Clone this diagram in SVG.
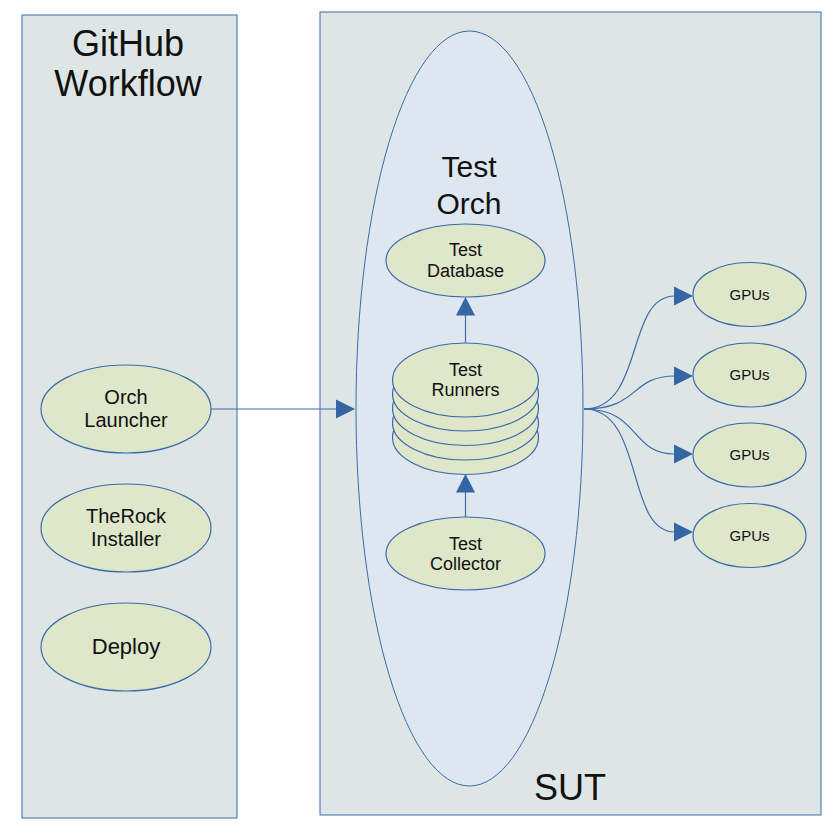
<svg xmlns="http://www.w3.org/2000/svg" width="840" height="830" viewBox="0 0 840 830">
<defs>
<style>
.panel{fill:#dee6e5;stroke:#3c6aaa;stroke-width:1}
.orch{fill:#dee6f0;stroke:#3c6aaa;stroke-width:1}
.node{fill:#dee7c9;stroke:#3c6aaa;stroke-width:1.2}
.conn{fill:none;stroke:#3c6aaa;stroke-width:1.2}
.head{fill:#3465a4}
text{font-family:"Liberation Sans",Arial,sans-serif;fill:#111;text-anchor:middle}
.big{font-size:36px}
.mid{font-size:30px}
.n22{font-size:22px}
.n20{font-size:20px}
.n18{font-size:18px}
.n15{font-size:15px}
</style>
</defs>
<rect width="840" height="830" fill="#ffffff"/>
<g id="github-workflow">
<rect class="panel" x="22" y="15" width="215" height="803"/>
<text class="big" x="128" y="56">GitHub</text>
<text class="big" x="128" y="96">Workflow</text>
</g>
<g id="sut">
<rect class="panel" x="320" y="12" width="501" height="803"/>
<text class="big" x="570" y="800">SUT</text>
</g>
<g id="test-orch">
<ellipse class="orch" cx="469.5" cy="408.5" rx="113.5" ry="377.5"/>
<text class="mid" x="469" y="177">Test</text>
<text class="mid" x="469" y="214">Orch</text>
</g>
<g id="orch-launcher">
<ellipse class="node" cx="126" cy="409" rx="85" ry="44"/>
<text class="n20" x="126" y="404">Orch</text>
<text class="n20" x="126" y="427">Launcher</text>
</g>
<g id="therock-installer">
<ellipse class="node" cx="126" cy="528" rx="85" ry="44"/>
<text class="n20" x="126" y="523">TheRock</text>
<text class="n20" x="126" y="546">Installer</text>
</g>
<g id="deploy">
<ellipse class="node" cx="126" cy="647" rx="85" ry="44"/>
<text class="n22" x="126" y="654">Deploy</text>
</g>
<g id="test-database">
<ellipse class="node" cx="465.5" cy="260.5" rx="79.5" ry="36.5"/>
<text class="n18" x="465.5" y="256">Test</text>
<text class="n18" x="465.5" y="277">Database</text>
</g>
<g id="test-runners">
<ellipse class="node" cx="465.5" cy="437.5" rx="73" ry="37"/>
<ellipse class="node" cx="465.5" cy="423" rx="73" ry="37"/>
<ellipse class="node" cx="465.5" cy="408.5" rx="73" ry="37"/>
<ellipse class="node" cx="465.5" cy="394" rx="73" ry="37"/>
<ellipse class="node" cx="465.5" cy="380" rx="73" ry="37"/>
<text class="n18" x="465.5" y="376">Test</text>
<text class="n18" x="465.5" y="396">Runners</text>
</g>
<g id="test-collector">
<ellipse class="node" cx="465.5" cy="553.5" rx="79.5" ry="36.5"/>
<text class="n18" x="465.5" y="550">Test</text>
<text class="n18" x="465.5" y="570">Collector</text>
</g>
<g id="gpus-1">
<ellipse class="node" cx="749.5" cy="294.5" rx="56.5" ry="32"/>
<text class="n15" x="749.5" y="300">GPUs</text>
</g>
<g id="gpus-2">
<ellipse class="node" cx="749.5" cy="375" rx="56.5" ry="32"/>
<text class="n15" x="749.5" y="380">GPUs</text>
</g>
<g id="gpus-3">
<ellipse class="node" cx="749.5" cy="455" rx="56.5" ry="32"/>
<text class="n15" x="749.5" y="460">GPUs</text>
</g>
<g id="gpus-4">
<ellipse class="node" cx="749.5" cy="535.5" rx="56.5" ry="32"/>
<text class="n15" x="749.5" y="541">GPUs</text>
</g>
<g id="connectors">
<path class="conn" d="M211,409 L337,409"/>
<polygon class="head" points="355,409 336,399.5 336,418.5"/>
<path class="conn" d="M465.5,343 L465.5,314"/>
<polygon class="head" points="465.5,297 456,315.5 475,315.5"/>
<path class="conn" d="M465.5,517 L465.5,491"/>
<polygon class="head" points="465.5,474 456,492.5 475,492.5"/>
<path class="conn" d="M584,409 C645,409 625,296 675,296"/>
<polygon class="head" points="693,296 674,286.5 674,305.5"/>
<path class="conn" d="M584,409 C640,409 630,376 675,376"/>
<polygon class="head" points="693,376 674,366.5 674,385.5"/>
<path class="conn" d="M584,409 C640,409 630,454 675,454"/>
<polygon class="head" points="693,454 674,444.5 674,463.5"/>
<path class="conn" d="M584,409 C645,409 625,532 675,532"/>
<polygon class="head" points="693,532 674,522.5 674,541.5"/>
</g>
</svg>
